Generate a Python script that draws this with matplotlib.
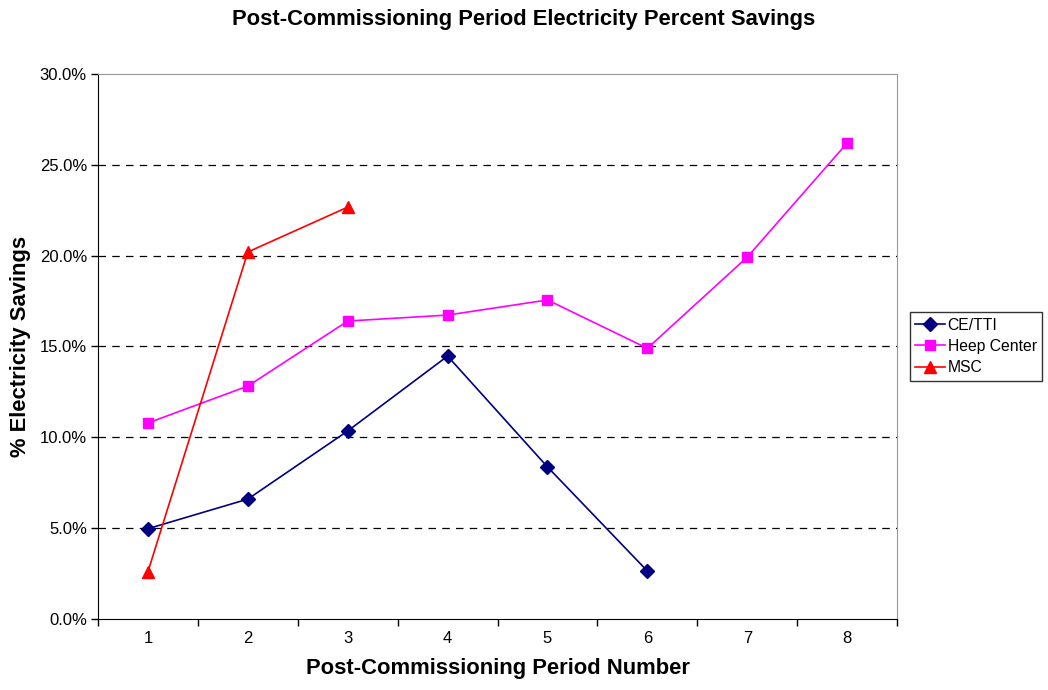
import matplotlib
matplotlib.use("Agg")
import matplotlib.pyplot as plt
from matplotlib.ticker import FixedLocator, PercentFormatter

plt.rcParams['font.family'] = ['Liberation Sans', 'DejaVu Sans']

periods_ce = [1, 2, 3, 4, 5, 6]
ce_tti = [4.97, 6.6, 10.35, 14.47, 8.37, 2.64]

periods_heep = [1, 2, 3, 4, 5, 6, 7, 8]
heep_center = [10.79, 12.82, 16.4, 16.73, 17.56, 14.9, 19.92, 26.2]

periods_msc = [1, 2, 3]
msc = [2.6, 20.2, 22.67]

fig = plt.figure(figsize=(10.48, 6.9), dpi=100)
ax = fig.add_axes([0.0935, 0.1029, 0.7625, 0.7899])

ax.plot(periods_ce, ce_tti, color='#000080', marker='D', markersize=7, lw=1.2, label='CE/TTI')
ax.plot(periods_heep, heep_center, color='#FF00FF', marker='s', markersize=7.5, lw=1.2, label='Heep Center')
ax.plot(periods_msc, msc, color='#FF0000', marker='^', markersize=8, lw=1.2, label='MSC')

ax.set_xlim(0.5, 8.5)
ax.set_ylim(0, 30)
ax.set_yticks([0, 5, 10, 15, 20, 25, 30])
ax.yaxis.set_major_formatter(PercentFormatter(decimals=1))
ax.set_xticks(range(1, 9))
ax.xaxis.set_minor_locator(FixedLocator([i + 0.5 for i in range(0, 9)]))
ax.tick_params(axis='x', which='major', length=0, pad=9, labelsize=12)
ax.tick_params(axis='x', which='minor', length=5, direction='out', width=1)
ax.tick_params(axis='y', length=5, direction='out', width=1, labelsize=12, pad=3)

for y in [5, 10, 15, 20, 25]:
    ax.axhline(y, color='black', lw=0.9, ls=(0, (6, 5)), zorder=0)

for side in ['top', 'right']:
    ax.spines[side].set_color('#999999')
for side in ['left', 'bottom']:
    ax.spines[side].set_color('black')

ax.set_xlabel('Post-Commissioning Period Number', fontsize=15.8, fontweight='bold', labelpad=8)
ax.set_ylabel('% Electricity Savings', fontsize=15.8, fontweight='bold', labelpad=6)
fig.suptitle('Post-Commissioning Period Electricity Percent Savings', fontsize=15.8,
             fontweight='bold', y=0.987)

leg = ax.legend(loc='center left', bbox_to_anchor=(1.016, 0.5), frameon=True, fancybox=False,
                edgecolor='black', fontsize=11.3, handlelength=1.9, borderpad=0.35,
                labelspacing=0.4, handletextpad=0.15, borderaxespad=0)
leg.get_frame().set_linewidth(1)

fig.savefig('out.png', dpi=100)
